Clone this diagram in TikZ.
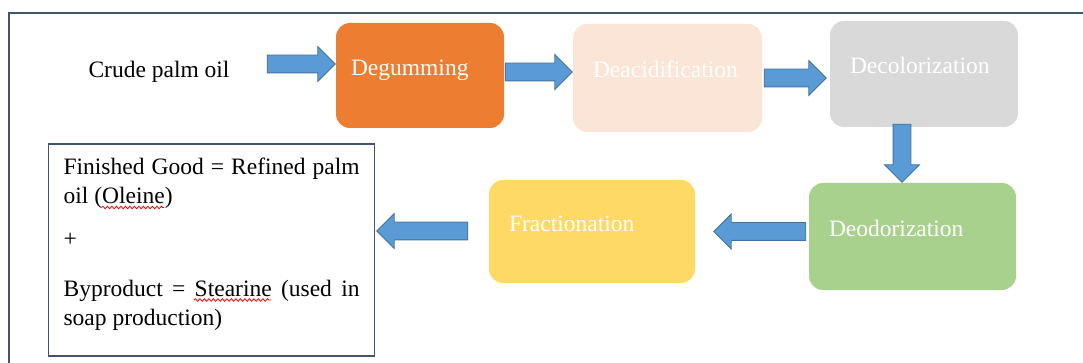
\documentclass[tikz,border=0pt]{standalone}
\usepackage{fontspec}
\setmainfont{Liberation Serif}
\usepackage{tikz}
\usetikzlibrary{positioning, shapes.arrows, decorations.pathmorphing}
\definecolor{slateFrame}{RGB}{68,84,106}
\definecolor{arrowBlue}{RGB}{91,155,213}
\definecolor{arrowEdge}{RGB}{65,113,156}
\definecolor{orangeStep}{RGB}{237,125,49}
\definecolor{peachStep}{RGB}{251,229,214}
\definecolor{grayStep}{RGB}{217,217,217}
\definecolor{greenStep}{RGB}{169,209,142}
\definecolor{yellowStep}{RGB}{255,217,102}

\begin{document}
\begin{tikzpicture}[
    x=1pt, y=-1pt,
    txt/.style={font=\fontsize{23.5}{29}\selectfont},
    stage/.style={txt, rectangle, rounded corners=14pt, text=white, align=left,
      inner xsep=20pt, inner ysep=0pt, text height=16pt, text depth=16pt},
    blk/.style={single arrow, draw=arrowEdge, fill=arrowBlue, line width=0.8pt,
      single arrow tip angle=90, single arrow head extend=8.5pt,
      inner xsep=0pt, inner ysep=8.5pt, minimum width=0pt},
    blkdown/.style={blk, shape border rotate=270, inner xsep=8.5pt, inner ysep=0pt},
    squig/.style={red, line width=0.8pt, decorate,
      decoration={snake, amplitude=1.3pt, segment length=4.5pt}}
  ]
  \useasboundingbox (0,0) rectangle (1083,363);
  \draw[slateFrame, line width=2.2pt] (1083,13) -- (9,13) -- (9,363);

  % refining steps
  \node[txt, anchor=base] (crude) at (159,77.5) {Crude palm oil};
  \node[stage, fill=orangeStep, inner xsep=15pt, text width=138pt, minimum height=105pt] (degum) at (420,75.5) {Degumming};
  \node[stage, fill=peachStep, text width=149pt, minimum height=108pt] (deacid) at (667.5,78) {Deacidification};
  \node[stage, fill=grayStep, text width=148pt, minimum height=106pt] (decolor) at (924,74) {Decolorization};
  \node[stage, fill=greenStep, text width=167pt, minimum height=107pt] (deodor) at (912.5,236.5) {Deodorization};
  \node[stage, fill=yellowStep, text width=166pt, minimum height=103pt] (fraction) at (592,231.5) {Fractionation};
  \node[txt, draw=slateFrame, line width=1.2pt, text width=296pt, align=justify,
    inner xsep=15pt, inner ysep=0pt, text height=31pt, text depth=181pt,
    anchor=base west] (result) at (48,175)
    {Finished Good = Refined palm\linebreak oil (Oleine)\\[14pt]
     +\\[21pt]
     Byproduct = Stearine (used in\linebreak soap production)};

  % block arrows
  \node[blk, minimum height=68pt, anchor=tip] (a1) at ([yshift=11.5pt]degum.west) {};
  \node[blk, minimum height=67pt, anchor=tip] (a2) at ([yshift=6pt]deacid.west) {};
  \node[blk, minimum height=62pt, anchor=tip] (a3) at ([xshift=-3pt, yshift=-4pt]decolor.west) {};
  \node[blkdown, minimum height=58pt, anchor=tip] (a4) at ([xshift=-10.5pt]deodor.north) {};
  \node[blk, shape border rotate=180, minimum height=92pt, anchor=tip] (a5) at ([xshift=18pt]fraction.east) {};
  \node[blk, shape border rotate=180, minimum height=91pt, anchor=tip] (a6) at ([xshift=1pt, yshift=19pt]result.east) {};

  % spell-check marks
  \draw[squig] (101.5,207.5) -- (164,207.5);
  \draw[squig] (194,300) -- (271,300);
\end{tikzpicture}
\end{document}
